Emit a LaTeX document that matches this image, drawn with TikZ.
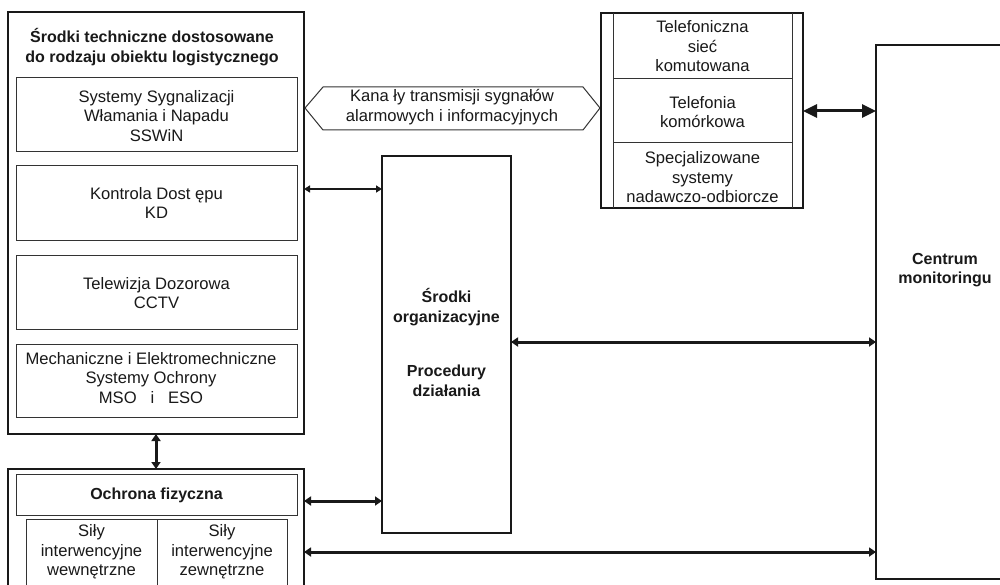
\documentclass[tikz,border=0pt]{standalone}
\usepackage{fontspec}
\setmainfont{Liberation Sans}
\usetikzlibrary{arrows.meta}
\begin{document}
\begin{tikzpicture}[x=1pt,y=-1pt,
  every node/.style={font=\fontsize{16.6}{19.5}\selectfont, text=black!90},
  thickbox/.style={draw=black!90, line width=2.6pt, inner sep=0pt, outer sep=0pt},
  thinbox/.style={draw=black!80, line width=1pt, inner sep=0pt, outer sep=0pt, align=center},
  orgbox/.style={draw=black!90, line width=2.2pt, inner sep=0pt, outer sep=0pt},
  txt/.style={align=center, inner sep=0pt},
  btxt/.style={align=center, inner sep=0pt, font=\fontsize{16}{19.5}\selectfont\bfseries},
  arr/.style={line width=3pt, draw=black!90, {Triangle[length=7pt,width=9pt]}-{Triangle[length=7pt,width=9pt]}},
  arrthin/.style={line width=2pt, draw=black!90, {Triangle[length=6pt,width=7pt]}-{Triangle[length=6pt,width=7pt]}},
  bigarr/.style={line width=3pt, draw=black!90, {Triangle[length=14pt,width=13pt]}-{Triangle[length=14pt,width=13pt]}}
]
\useasboundingbox (0,0) rectangle (1000,585);
\fill[white] (0,0) rectangle (1000,585);

% left technical box
\node[thickbox, minimum width=296pt, minimum height=422pt] (lbox) at (156,223) {};
\node[btxt] (title) at (152,47) {Środki techniczne dostosowane\\do rodzaju obiektu logistycznego};
\node[thinbox, minimum width=281pt, minimum height=74pt] (sswin) at (156.5,115) {};
\node[txt] (sswint) at (156.5,116) {Systemy Sygnalizacji\\Włamania i Napadu\\SSWiN};
\node[thinbox, minimum width=281pt, minimum height=74pt] (kd) at (156.5,203) {};
\node[txt] (kdt) at (156.5,203) {Kontrola Dost ępu\\KD};
\node[thinbox, minimum width=281pt, minimum height=74pt] (cctv) at (156.5,292) {};
\node[txt] (cctvt) at (156.5,293) {Telewizja Dozorowa\\CCTV};
\node[thinbox, minimum width=281pt, minimum height=73pt] (mso) at (156.5,380.5) {};
\node[txt] (msot) at (151,378) {Mechaniczne i Elektromechniczne\\Systemy Ochrony\\MSO \ \ i \ \ ESO};

% bottom physical protection box
\node[thickbox, minimum width=296pt, minimum height=131pt] (bbox) at (156,534.5) {};
\node[thinbox, minimum width=281pt, minimum height=41pt] (ochr) at (156.5,494.5) {};
\node[btxt] (ochrt) at (156.5,495) {Ochrona fizyczna};
\node[thinbox, minimum width=131pt, minimum height=81pt] (wew) at (91.5,559.5) {};
\node[txt] (wewt) at (91.5,552) {Siły\\interwencyjne\\wewnętrzne};
\node[thinbox, minimum width=130pt, minimum height=81pt] (zew) at (222,559.5) {};
\node[txt] (zewt) at (222,552) {Siły\\interwencyjne\\zewnętrzne};

% organisational box
\node[orgbox, minimum width=129pt, minimum height=377pt] (org) at (446.5,344.5) {};
\node[btxt] (orgt1) at (446.5,307) {Środki\\organizacyjne};
\node[btxt] (orgt2) at (446.5,381) {Procedury\\działania};

% channels hexagon
\draw[draw=black!80, line width=1pt] (305,108) -- (323,87) -- (583,87) -- (600,108) -- (583,130) -- (323,130) -- cycle;
\node[txt] (kan) at (452,107) {Kana ły transmisji sygnałów\\alarmowych i informacyjnych};

% telecommunication box
\node[thickbox, minimum width=202pt, minimum height=195pt] (tel) at (702,110.5) {};
\draw[draw=black!80, line width=1pt] (613,13) -- (613,208) (792,13) -- (792,208)
  (613,79) -- (792,79) (613,143) -- (792,143);
\node[txt] (tel1) at (702.5,46.5) {Telefoniczna\\sieć\\komutowana};
\node[txt] (tel2) at (702.5,112) {Telefonia\\komórkowa};
\node[txt] (tel3) at (702.5,177.5) {Specjalizowane\\systemy\\nadawczo-odbiorcze};

% monitoring centre
\node[thickbox, minimum width=144pt, minimum height=534pt] (cm) at (948,312) {};
\node[btxt] (cmt) at (945,270) {Centrum\\monitoringu};

% connectors
\draw[arrthin] (lbox.east |- 0,189) -- (org.west |- 0,189);
\draw[arr] (lbox.south) -- (bbox.north);
\draw[arr] (bbox.east |- 0,501) -- (org.west |- 0,501);
\draw[arr] (org.east |- 0,342) -- (cm.west |- 0,342);
\draw[arr] (bbox.east |- 0,552) -- (cm.west |- 0,552);
\draw[bigarr] (tel.east |- 0,111) -- (cm.west |- 0,111);
\end{tikzpicture}
\end{document}
